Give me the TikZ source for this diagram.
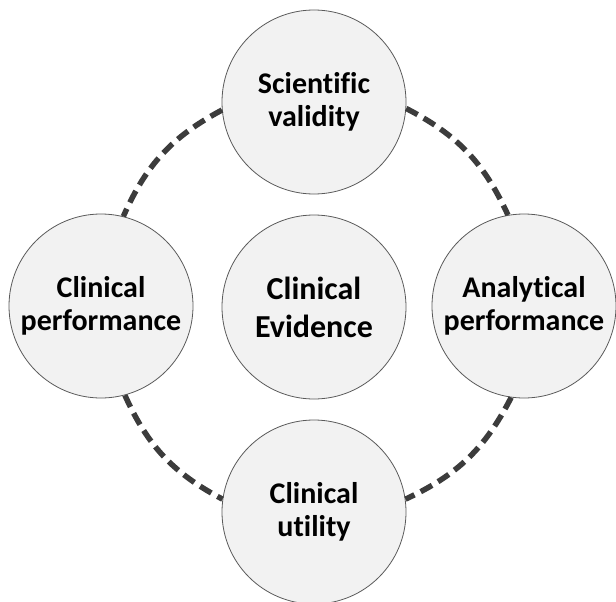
\documentclass[tikz,border=0pt]{standalone}
\usepackage{fontspec}
\setmainfont{Carlito}[Ligatures=CommonOff]
\usepackage{tikz}
\usetikzlibrary{positioning}

\definecolor{circfill}{HTML}{F2F2F2}
\definecolor{circline}{HTML}{5A5A5A}
\definecolor{dashcol}{HTML}{3C3C3C}

\tikzset{
	part/.style={circle, draw=circline, line width=0.8pt, fill=circfill, minimum size=184pt,
		inner sep=0pt, align=center, font=\fontsize{30}{33}\selectfont\bfseries},
	core/.style={part, font=\fontsize{32}{38}\selectfont\bfseries},
	link/.style={draw=dashcol, line width=5.5pt, dash pattern=on 13pt off 7pt}
}

\begin{document}
\begin{tikzpicture}[x=1pt,y=-1pt]
				\useasboundingbox (0,0) rectangle (616,602);
				%%%nodes
				\node[core] at (314,307) (CE){Clinical\\Evidence};
				%outer ring
				\node[part] at (314,102) (SV){Scientific\\validity};
				\node[part] at (101,306) (CP){Clinical\\performance};
				\node[part] at (524,306) (AP){Analytical\\performance};
				\node[part] at (314,512) (CU){Clinical\\utility};
				%%%links
				\draw[link] (SV.185) to[bend right=19] (CP.76);
				\draw[link] (SV.-4) to[bend left=19] (AP.100);
				\draw[link] (CP.-75) to[bend right=19] (CU.172);
				\draw[link] (AP.-98) to[bend left=19] (CU.8);
			\end{tikzpicture}
\end{document}
